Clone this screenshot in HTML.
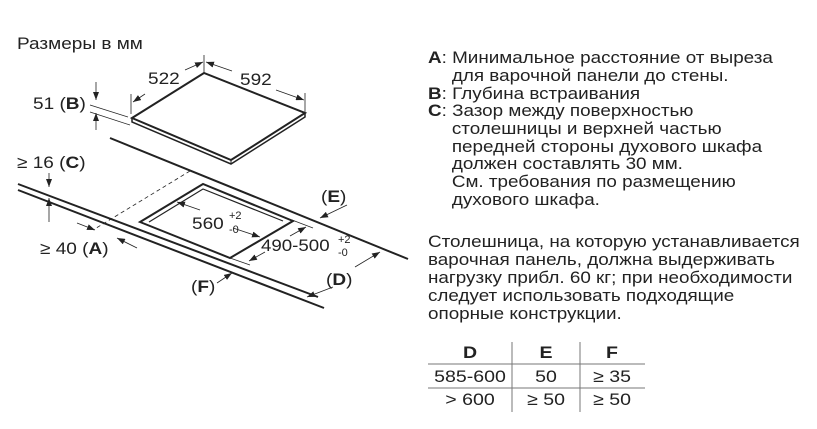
<!DOCTYPE html>
<html><head><meta charset="utf-8"><style>
html,body{margin:0;padding:0;background:#fff}
svg{display:block}
text{font-family:"Liberation Sans",sans-serif;fill:#222}
</style></head><body>
<svg width="817" height="429" viewBox="0 0 817 429" xmlns="http://www.w3.org/2000/svg">
<defs>
<marker id="ar" markerWidth="8" markerHeight="6" refX="8" refY="3" orient="auto" markerUnits="userSpaceOnUse"><path d="M0,0 L8,3 L0,6z" fill="#222"/></marker>
</defs>
<g font-size="17">
<text transform="translate(17,49) scale(1.12,1)">Размеры в мм</text>
<text transform="translate(148,84) scale(1.12,1)">522</text>
<text transform="translate(240,85) scale(1.12,1)">592</text>
<text transform="translate(33,109) scale(1.12,1)">51 (<tspan font-weight="bold">B</tspan>)</text>
<text transform="translate(17,168) scale(1.12,1)">≥ 16 (<tspan font-weight="bold">C</tspan>)</text>
<text transform="translate(40,254) scale(1.12,1)">≥ 40 (<tspan font-weight="bold">A</tspan>)</text>
<text transform="translate(192,229) scale(1.12,1)">560</text><text x="229" y="219" font-size="11">+2</text><text x="229" y="233" font-size="11">-0</text>
<text transform="translate(261,251) scale(1.1,1)">490-500</text><text x="338" y="243" font-size="11">+2</text><text x="338" y="256" font-size="11">-0</text>
<text transform="translate(321,202) scale(1.12,1)">(<tspan font-weight="bold">E</tspan>)</text>
<text transform="translate(326,285) scale(1.12,1)">(<tspan font-weight="bold">D</tspan>)</text>
<text transform="translate(191,292) scale(1.12,1)">(<tspan font-weight="bold">F</tspan>)</text>
</g>
<g stroke="#222" fill="none">
<!-- hob -->
<path d="M132,118 L204,73 L305,113 L231,160 Z" stroke-width="2"/>
<path d="M132,118 L132,122 L231,164 L305,117 L305,113" stroke-width="1.5"/>
<path d="M231,160 L231,164" stroke-width="1"/>
<!-- dims on hob -->
<line x1="131" y1="94" x2="131" y2="114" stroke-width="0.8"/>
<line x1="204" y1="55" x2="204" y2="72" stroke-width="0.8"/>
<line x1="305" y1="93" x2="305" y2="112" stroke-width="0.8"/>
<line x1="145" y1="94" x2="133" y2="102" stroke-width="0.8" marker-end="url(#ar)"/>
<line x1="185" y1="70" x2="203" y2="62" stroke-width="0.8" marker-end="url(#ar)"/>
<line x1="232" y1="71" x2="206" y2="62" stroke-width="0.8" marker-end="url(#ar)"/>
<line x1="276" y1="90" x2="304" y2="100" stroke-width="0.8" marker-end="url(#ar)"/>
<!-- B dim -->
<line x1="96" y1="82" x2="96" y2="100" stroke-width="0.8" marker-end="url(#ar)"/>
<line x1="96" y1="130" x2="96" y2="113" stroke-width="0.8" marker-end="url(#ar)"/>
<line x1="90" y1="105" x2="128" y2="117" stroke-width="0.7"/>
<line x1="90" y1="112" x2="130" y2="125" stroke-width="0.7"/>
<!-- counter lines -->
<line x1="110" y1="138" x2="408" y2="259" stroke-width="2"/>
<line x1="18" y1="184" x2="318" y2="297" stroke-width="2"/>
<line x1="18" y1="190" x2="324" y2="308" stroke-width="2"/>
<!-- dashed -->
<line x1="190" y1="171" x2="93" y2="230" stroke-width="0.8" stroke-dasharray="4,3"/>
<!-- cutout -->
<path d="M140,222 L203,184 L293,221 L230,258 Z" stroke-width="2"/>
<path d="M149,222 L203,189 L283,221" stroke-width="1.2"/>
<!-- C dim -->
<line x1="49" y1="173" x2="49" y2="187" stroke-width="0.8" marker-end="url(#ar)"/>
<line x1="49" y1="222" x2="49" y2="198" stroke-width="0.8" marker-end="url(#ar)"/>
<!-- A dim -->
<line x1="77" y1="223" x2="95" y2="230" stroke-width="0.8" marker-end="url(#ar)"/>
<line x1="137" y1="248" x2="117" y2="238" stroke-width="0.8" marker-end="url(#ar)"/>
<!-- 560 -->
<line x1="200" y1="210" x2="177" y2="202" stroke-width="0.8" marker-end="url(#ar)"/>
<line x1="233" y1="228" x2="260" y2="237" stroke-width="0.8" marker-end="url(#ar)"/>
<!-- 490 -->
<line x1="292" y1="220" x2="313" y2="228" stroke-width="0.7"/>
<line x1="290" y1="236" x2="306" y2="227" stroke-width="0.8" marker-end="url(#ar)"/>
<line x1="265" y1="252" x2="249" y2="261" stroke-width="0.8" marker-end="url(#ar)"/>
<line x1="230" y1="258" x2="250" y2="265" stroke-width="0.7"/>
<!-- E -->
<line x1="347" y1="205" x2="320" y2="218" stroke-width="0.8" marker-end="url(#ar)"/>
<!-- D -->
<line x1="355" y1="267" x2="380" y2="252" stroke-width="0.8" marker-end="url(#ar)"/>
<line x1="333" y1="287" x2="307" y2="297" stroke-width="0.8" marker-end="url(#ar)"/>
<!-- F -->
<line x1="217" y1="283" x2="232" y2="273" stroke-width="0.8" marker-end="url(#ar)"/>
</g>
<g font-size="17" transform="translate(428,0) scale(1.11,1)">
<text x="0" y="63"><tspan font-weight="bold">A</tspan>: Минимальное расстояние от выреза</text>
<text x="21.5" y="81">для варочной панели до стены.</text>
<text x="0" y="99"><tspan font-weight="bold">B</tspan>: Глубина встраивания</text>
<text x="0" y="116"><tspan font-weight="bold">C</tspan>: Зазор между поверхностью</text>
<text x="21.5" y="134">столешницы и верхней частью</text>
<text x="21.5" y="152">передней стороны духового шкафа</text>
<text x="21.5" y="169">должен составлять 30 мм.</text>
<text x="21.5" y="187">См. требования по размещению</text>
<text x="21.5" y="205">духового шкафа.</text>
<text x="0" y="247">Столешница, на которую устанавливается</text>
<text x="0" y="265">варочная панель, должна выдерживать</text>
<text x="0" y="283">нагрузку прибл. 60 кг; при необходимости</text>
<text x="0" y="301">следует использовать подходящие</text>
<text x="0" y="319">опорные конструкции.</text>
</g>
<g font-size="17" text-anchor="middle">
<text transform="translate(470,358) scale(1.15,1)" font-weight="bold">D</text>
<text transform="translate(546,358) scale(1.15,1)" font-weight="bold">E</text>
<text transform="translate(612,358) scale(1.15,1)" font-weight="bold">F</text>
<text transform="translate(470,382) scale(1.15,1)">585-600</text>
<text transform="translate(546,382) scale(1.15,1)">50</text>
<text transform="translate(612,382) scale(1.15,1)">≥ 35</text>
<text transform="translate(470,405) scale(1.15,1)">&gt; 600</text>
<text transform="translate(546,405) scale(1.15,1)">≥ 50</text>
<text transform="translate(612,405) scale(1.15,1)">≥ 50</text>
</g>
<g stroke="#777" stroke-width="1">
<line x1="428" y1="364" x2="645" y2="364"/>
<line x1="428" y1="388" x2="645" y2="388"/>
<line x1="512" y1="342" x2="512" y2="412"/>
<line x1="580" y1="342" x2="580" y2="412"/>
</g>
</svg>
</body></html>
